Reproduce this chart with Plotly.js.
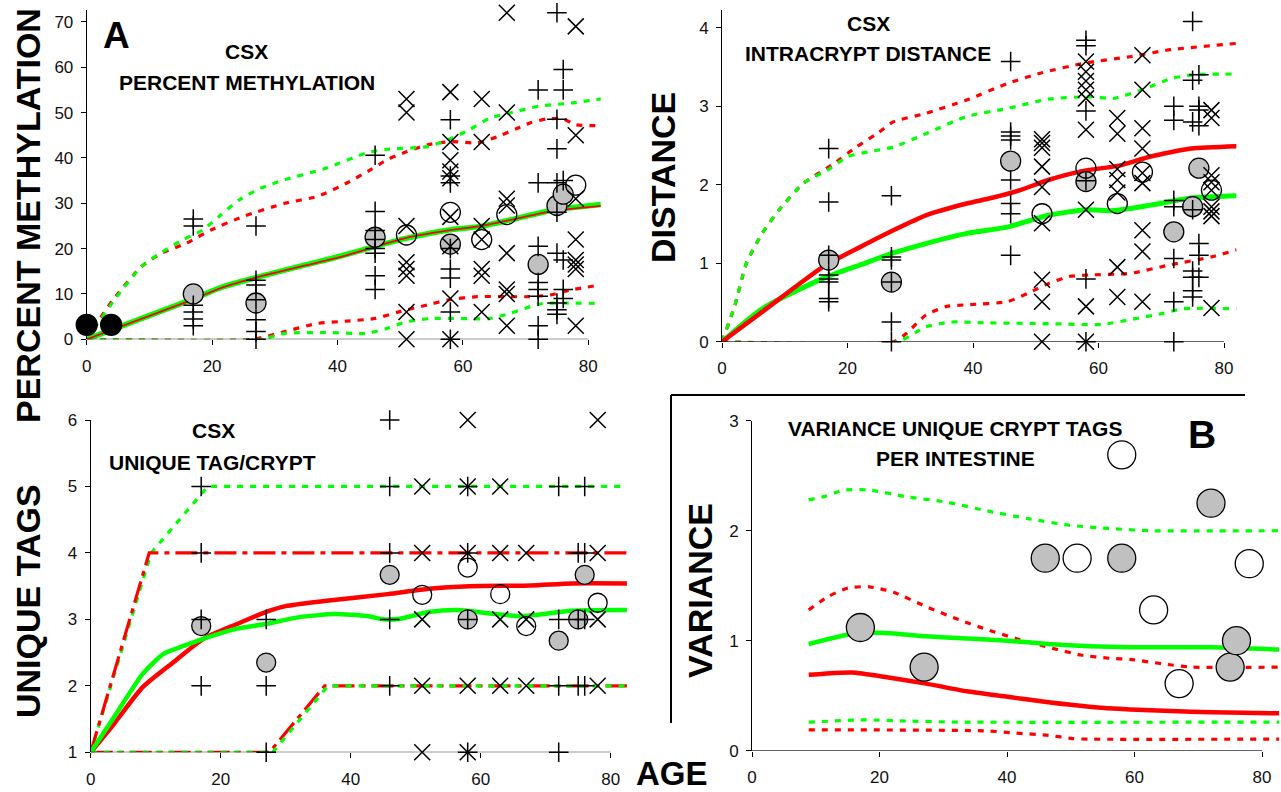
<!DOCTYPE html>
<html><head><meta charset="utf-8">
<script src="https://cdn.plot.ly/plotly-3.0.1.min.js"></script>
<style>html,body{margin:0;padding:0;background:#fff}#chart{width:1281px;height:792px}</style>
</head><body><div id="chart"></div>
<script>
// ---------------- DATA ----------------
// Panel A: percent methylation
const methDots = [[0,3.2],[3.9,3.2]];
const methGray = [[17,10],[27,8],[46,22.5],[58,21],[72,16.5],[75,29.5],[76,32]];
const methOpen = [[51,23],[58,28],[63,22],[67,27.5],[78,34]];
const methPlusAges = [17,27,46,58,72,75,76];
const methPlusVals = [[26.5,25,7.5,6,4.5,3],[25,13,12,8.7,4.3,1.7,0],[40.6,28.2,24,22,20,19,14,11],
  [48.4,36,34.5,20,15.5,13.5,6,0],[55,34.5,20.5,12.5,11,9.5,3,0],[72,48.5,42,34.5,28,19,8,6.5,5.5],[59.5,55,35,17.5,11,9]];
const methXAges = [51,58,63,67,78];
const methXVals = [[53,50,25,17,15.5,14,6,0],[54.5,43.5,39.5,37,35.5,27,20.5,9,0],[53,43.5,25,22,15.5,14,6],
  [72,50,31,29.5,19,11,10,3],[69,45,31,22,17.5,16.5,15.5,3]];
const methMeanG = [[0,0],[16.6,8.7],[21.8,11.6],[26.7,13.5],[34.9,16.4],[40.1,18.2],[46,20.5],[51.1,22.3],[57.7,24.1],[62.9,24.9],[67.5,26.3],[74.1,28.4],[82,29.7]];
const methMeanR = [[0,0],[16.6,8.6],[21.8,11.5],[26.7,13.5],[34.9,16.3],[40.1,18],[46,20.4],[51.1,22.4],[57.7,24],[62.9,25],[67.5,26.3],[74.1,28.2],[82,29.4]];
const methHiG = [[0,0],[4.8,9.4],[8.7,16],[11.3,18.6],[15.3,21.9],[18.5,24.1],[21.1,27.1],[24.4,30.8],[27.7,33.3],[31.6,35.2],[38.1,37.7],[44.6,41.1],[47.9,41.9],[54.4,42.5],[58.3,44.4],[61,46.2],[64.3,48.8],[67.5,49.9],[72.1,51.4],[77.3,52.1],[82,53]];
const methHiR = [[0,0],[1.6,3.5],[4.2,8.7],[8.7,16],[12,19],[15.9,21.2],[19.8,24.1],[25,27.1],[31.6,30],[36.8,31.5],[41.4,34.4],[45.3,37.4],[47.9,39.6],[51.1,41.4],[54.4,42.9],[58.3,43.6],[62.3,43.3],[65.5,44.7],[68.8,46.6],[70.7,47.7],[73.4,48.6],[76,48.6],[78,47.3],[82,47.1]];
const methLoR = [[0,0],[26.4,0],[31.6,1.7],[36.8,3.5],[41.4,4],[46,4.6],[49.9,6.1],[54.4,7.6],[57.7,8.7],[62.3,9.4],[70.7,9.4],[74,9.8],[77.3,10.9],[82,12]];
const methLoG = [[0,0],[27.7,0],[31.6,1.3],[38.1,1.5],[44.6,1.3],[47.9,2.4],[51.1,3.9],[55.1,4.6],[64.3,4.6],[67.5,5.7],[70.7,7.2],[72.7,7.9],[82,7.9]];

// Panel top-right: intracrypt distance
const distGray = [[17,1.04],[27,0.76],[46,2.3],[58,2.04],[72,1.4],[75,1.72],[76,2.21]];
const distOpen = [[51,1.63],[58,2.21],[63,1.76],[67,2.16],[78,1.93]];
const distPlusAges = [17,27,46,58,72,75,76];
const distPlusVals = [[2.46,1.78,1.1,0.85,0.8,0.76,0.55,0.51],[1.86,1.08,1.04,0.76,0.25,0],[3.57,2.67,2.62,2.57,2.06,1.76,1.63,1.1],
  [3.84,3.77,2.94,2.05,0.8,0],[3.0,2.82,1.8,1.72,1.06,0.51,0],[4.08,3.33,2.8,1.68,0.9,0.82,0.65,0.57],[3.4,3.0,2.95,2.75,1.25,1.1,0.82]];
const distXAges = [51,58,63,67,78];
const distXVals = [[2.58,2.53,2.47,2.23,1.97,1.51,0.79,0.51,0],[3.57,3.44,3.32,3.21,3.1,2.7,1.68,0.45,0],[2.85,2.65,2.2,2.06,1.9,0.95,0.57],
  [3.65,3.21,2.72,2.46,2.15,2.02,1.42,1.15,0.51],[2.95,2.85,2.12,2.03,1.93,1.72,1.66,1.6,0.43]];
const distMeanR = [[0,0],[6.4,0.38],[16.2,0.96],[22.1,1.21],[27.3,1.42],[32.5,1.61],[39,1.76],[42.9,1.83],[47.5,1.93],[52,2.06],[57.2,2.17],[63.7,2.25],[68.3,2.36],[74.8,2.46],[82,2.49]];
const distMeanG = [[0,0],[6.4,0.42],[16.2,0.81],[22.1,0.98],[27.3,1.13],[32.5,1.25],[39,1.38],[45.5,1.46],[52,1.61],[57.9,1.68],[62.4,1.67],[68.3,1.74],[74.8,1.83],[82,1.86]];
const distHiR = [[0,0],[2,0.45],[3.9,1.0],[6.4,1.38],[9.1,1.68],[13,2.02],[17.5,2.25],[21.4,2.48],[24.7,2.65],[27.3,2.8],[32.5,2.91],[39,3.08],[45.5,3.29],[50.7,3.42],[57.9,3.55],[65,3.63],[71.5,3.72],[82,3.8]];
const distHiG = [[0,0],[2,0.45],[3.9,1.0],[6.4,1.38],[9.1,1.68],[13,2.02],[16.9,2.19],[20.1,2.36],[23.4,2.42],[27.3,2.48],[32.5,2.65],[39,2.87],[45.5,2.97],[52,3.09],[58.5,3.12],[62.4,3.1],[67,3.21],[71.5,3.35],[75,3.4],[82,3.41]];
const distLoR = [[0,0],[27.3,0],[29.3,0.1],[32.5,0.34],[35.8,0.45],[39,0.47],[45.5,0.51],[48.8,0.62],[52,0.74],[55.3,0.83],[58.5,0.85],[65,0.87],[71.5,0.98],[78,1.08],[82,1.17]];
const distLoG = [[0,0],[28,0],[32.5,0.19],[36.4,0.25],[42.3,0.24],[52,0.23],[60.5,0.22],[65,0.28],[70.2,0.36],[73.5,0.42],[82,0.42]];

// Panel bottom-left: unique tags per crypt
const tagsGray = [[17,2.9],[27,2.35],[46,3.67],[58,3.0],[72,2.68],[75,3.0],[76,3.67]];
const tagsOpen = [[51,3.37],[58,3.78],[63,3.38],[67,2.9],[78,3.25]];
const tagsPlusAges = [17,27,46,58,72,75,76];
const tagsPlusVals = [[5,4,3,2],[3,2,1],[6,5,4,3,2],[5,4,3,1],[5,3,2,1],[4,3,2],[5,4,3,2]];
const tagsXAges = [51,58,63,67,78];
const tagsXVals = [[5,4,3,2,1],[6,5,4,2,1],[5,4,3,2],[4,3,2],[6,4,3,2]];
const tagsMeanR = [[0,1],[3.6,1.43],[8,1.98],[12.4,2.33],[17.4,2.71],[22.5,2.93],[26.9,3.11],[30,3.2],[36.3,3.28],[45.7,3.38],[52,3.46],[58.3,3.5],[67.7,3.51],[74,3.54],[82.5,3.54]];
const tagsMeanG = [[0,1],[3.6,1.53],[8,2.18],[11.2,2.48],[14.3,2.6],[17.4,2.71],[22.5,2.86],[26.9,2.93],[31.9,3.03],[37.5,3.08],[42.5,3.05],[45.1,3.0],[47.6,3.01],[52,3.11],[56.4,3.14],[61.4,3.09],[66.4,3.05],[74,3.13],[82.5,3.14]];
const tagsHiR = [[0,1],[9,4],[82.5,4]];
const tagsHiG = [[0,1],[9.3,4],[18,5],[82.5,5]];
const tagsLoR = [[0,1],[27.5,1],[36,2],[82.5,2]];
const tagsLoG = [[0,1],[28,1],[36.5,2],[82.5,2]];

// Panel B: variance unique crypt tags per intestine
const varGray = [[17,1.12],[27,0.76],[46,1.75],[58,1.75],[72,2.25],[75,0.76],[76,1.0]];
const varOpen = [[51,1.75],[58,2.69],[63,1.28],[67,0.61],[78,1.7]];
const varMeanG = [[8.9,0.97],[16.4,1.07],[20.9,1.07],[27.3,1.04],[33.7,1.02],[40.1,1.0],[46.5,0.97],[52.9,0.95],[59.3,0.94],[72.1,0.94],[82.7,0.92]];
const varMeanR = [[8.9,0.69],[11.3,0.7],[15.7,0.71],[20.9,0.67],[27.3,0.61],[33.7,0.54],[40.1,0.49],[46.5,0.44],[52.9,0.4],[59.3,0.375],[65.7,0.36],[72.1,0.35],[82.7,0.34]];
const varHiG = [[8.9,2.28],[11.3,2.31],[14.5,2.37],[18.4,2.37],[24.1,2.31],[30.5,2.26],[36.9,2.18],[43.3,2.11],[49.7,2.05],[56.1,2.02],[62.5,2.0],[82.7,2.0]];
const varHiR = [[8.9,1.28],[11.9,1.4],[15.1,1.48],[18.4,1.49],[22.2,1.44],[27.3,1.31],[32.5,1.19],[36.9,1.1],[41.4,1.02],[46.5,0.94],[51.6,0.87],[56.1,0.84],[59.3,0.83],[64.4,0.79],[68.9,0.76],[82.7,0.76]];
const varLoG = [[8.9,0.26],[17.7,0.28],[24.1,0.27],[32.5,0.26],[82.7,0.26]];
const varLoR = [[8.9,0.19],[36.9,0.18],[41.4,0.16],[46.5,0.14],[50.3,0.11],[52.9,0.105],[82.7,0.105]];

const xTicks = [0,20,40,60,80];

// ---------------- HELPERS ----------------
const GREEN = '#00ff00', RED = '#ff0000';
const FONT = 'Liberation Sans, Arial, sans-serif';
const W = 1281, H = 792;
const fx = p => p / W, fy = p => 1 - p / H;

function lineTrace(pairs, color, width, dash, ax, shape) {
  return {type:'scatter', mode:'lines', x:pairs.map(d=>d[0]), y:pairs.map(d=>d[1]),
    xaxis:'x'+ax, yaxis:'y'+ax, hoverinfo:'skip', showlegend:false,
    line:{color:color, width:width, dash:dash||'solid', shape:shape||'spline', smoothing:0.6}};
}
function circleTrace(pairs, fill, size, ax) {
  return {type:'scatter', mode:'markers', x:pairs.map(d=>d[0]), y:pairs.map(d=>d[1]),
    xaxis:'x'+ax, yaxis:'y'+ax, cliponaxis:false, showlegend:false, hoverinfo:'skip',
    marker:{symbol:'circle', size:size, color:fill, line:{color:'#000', width:1.3}}};
}
function crossTrace(ages, vals, symbol, size, ax) {
  const x = [], y = [];
  ages.forEach((a,i)=>vals[i].forEach(v=>{x.push(a); y.push(v);}));
  return {type:'scatter', mode:'markers', x:x, y:y, xaxis:'x'+ax, yaxis:'y'+ax,
    cliponaxis:false, showlegend:false, hoverinfo:'skip',
    marker:{symbol:symbol, size:size, color:'#000', line:{color:'#000', width:1.5}}};
}
const DOT = '6px,7px';
const PSZ = 14, XSZ = 16;
const ax1 = '', ax2 = '2', ax3 = '3', ax4 = '4';

const traces = [
  // Panel A
  lineTrace(methHiR, RED, 3.2, DOT, ax1), lineTrace(methHiG, GREEN, 3.2, DOT, ax1),
  lineTrace(methLoR, RED, 3.2, DOT, ax1), lineTrace(methLoG, GREEN, 3.2, DOT, ax1),
  lineTrace(methMeanG, GREEN, 5.5, 'solid', ax1), lineTrace(methMeanR, RED, 1.8, 'solid', ax1),
  circleTrace(methGray, '#c0c0c0', 20, ax1), circleTrace(methOpen, 'rgba(255,255,255,0)', 20, ax1),
  circleTrace(methDots, '#000', 21, ax1),
  crossTrace(methPlusAges, methPlusVals, 'cross-thin-open', PSZ, ax1),
  crossTrace(methXAges, methXVals, 'x-thin-open', XSZ, ax1),
  // Panel top-right
  lineTrace(distHiR, RED, 3.2, DOT, ax2), lineTrace(distHiG, GREEN, 3.2, DOT, ax2),
  lineTrace(distLoR, RED, 3.2, DOT, ax2), lineTrace(distLoG, GREEN, 3.2, DOT, ax2),
  lineTrace(distMeanG, GREEN, 5, 'solid', ax2), lineTrace(distMeanR, RED, 4.5, 'solid', ax2),
  circleTrace(distGray, '#c0c0c0', 20, ax2), circleTrace(distOpen, 'rgba(255,255,255,0)', 20, ax2),
  crossTrace(distPlusAges, distPlusVals, 'cross-thin-open', PSZ, ax2),
  crossTrace(distXAges, distXVals, 'x-thin-open', XSZ, ax2),
  // Panel bottom-left
  lineTrace(tagsHiG, GREEN, 3.2, DOT, ax3, 'linear'), lineTrace(tagsHiR, RED, 3.2, '22px,6px,5px,6px', ax3, 'linear'),
  lineTrace(tagsLoR, RED, 3.2, '22px,6px,5px,6px', ax3, 'linear'), lineTrace(tagsLoG, GREEN, 3.2, DOT, ax3, 'linear'),
  lineTrace(tagsMeanR, RED, 4.5, 'solid', ax3), lineTrace(tagsMeanG, GREEN, 4.5, 'solid', ax3),
  circleTrace(tagsGray, '#c0c0c0', 19, ax3), circleTrace(tagsOpen, 'rgba(255,255,255,0)', 19, ax3),
  crossTrace(tagsPlusAges, tagsPlusVals, 'cross-thin-open', PSZ, ax3),
  crossTrace(tagsXAges, tagsXVals, 'x-thin-open', XSZ, ax3),
  // Panel B
  lineTrace(varHiG, GREEN, 3.2, DOT, ax4), lineTrace(varHiR, RED, 3.2, DOT, ax4),
  lineTrace(varLoG, GREEN, 3.2, DOT, ax4), lineTrace(varLoR, RED, 3.2, DOT, ax4),
  lineTrace(varMeanG, GREEN, 4.5, 'solid', ax4), lineTrace(varMeanR, RED, 4.5, 'solid', ax4),
  circleTrace(varGray, '#c0c0c0', 28, ax4), circleTrace(varOpen, '#ffffff', 28, ax4)
];

// ---------------- LAYOUT ----------------
const tickFont = {family:FONT, size:17, color:'#111'};
function xAxis(l, r, range, anchor) {
  return {domain:[fx(l), fx(r)], range:range, anchor:anchor, tickvals:xTicks, ticks:'outside', ticklen:5,
    tickcolor:'#000', tickwidth:1, showline:false, showgrid:false, zeroline:false, tickfont:tickFont,
    ticklabelstandoff:6, fixedrange:true};
}
function yAxis(bottom, top, range, tv, anchor) {
  return {domain:[fy(bottom), fy(top)], range:range, anchor:anchor, tickvals:tv, ticks:'outside', ticklen:5,
    tickcolor:'#000', tickwidth:1, showline:true, linecolor:'#000', linewidth:1, showgrid:false, zeroline:false,
    tickfont:tickFont, ticklabelstandoff:4, fixedrange:true};
}

const bold = (t, s) => ({text:'<b>'+t+'</b>', font:{family:FONT, size:s, color:'#000'}});
function ann(t, x, y, s, angle) {
  const b = bold(t, s);
  return {text:b.text, font:b.font, xref:'paper', yref:'paper', x:fx(x), y:fy(y),
    xanchor:'center', yanchor:'middle', showarrow:false, textangle:angle||0};
}

const layout = {
  width:W, height:H, margin:{l:0, r:0, t:0, b:0}, paper_bgcolor:'#fff', plot_bgcolor:'rgba(0,0,0,0)',
  showlegend:false,
  xaxis: xAxis(86.7, 86.7 + 82*6.27, [0,82], 'y'),
  yaxis: yAxis(339.3, 339.3 - 72.6*4.535, [0,72.6], [0,10,20,30,40,50,60,70], 'x'),
  xaxis2: xAxis(722, 722 + 82*6.275, [0,82], 'y2'),
  yaxis2: yAxis(341.7, 341.7 - 4.22*78.5, [0,4.22], [0,1,2,3,4], 'x2'),
  xaxis3: xAxis(90.7, 90.7 + 82.5*6.5, [0,82.5], 'y3'),
  yaxis3: yAxis(752.3, 420, [1,6], [1,2,3,4,5,6], 'x3'),
  xaxis4: xAxis(752, 752 + 82.7*6.375, [0,82.7], 'y4'),
  yaxis4: yAxis(750.7, 420.7, [0,3], [0,1,2,3], 'x4'),
  shapes: [
    {type:'line', xref:'x', yref:'y', x0:0, x1:80, y0:0, y1:0, line:{color:'#000', width:1}},
    {type:'line', xref:'x2', yref:'y2', x0:0, x1:80, y0:0, y1:0, line:{color:'#000', width:1}},
    {type:'line', xref:'x3', yref:'y3', x0:0, x1:80, y0:1, y1:1, line:{color:'#000', width:1}},
    {type:'line', xref:'x4', yref:'y4', x0:0, x1:80, y0:0, y1:0, line:{color:'#000', width:1}},
    {type:'line', xref:'paper', yref:'paper', x0:fx(671), x1:fx(671), y0:fy(395), y1:fy(723), line:{color:'#000', width:2}},
    {type:'line', xref:'paper', yref:'paper', x0:fx(671), x1:fx(1245), y0:fy(395), y1:fy(395), line:{color:'#000', width:2}}
  ],
  annotations: [
    ann('PERCENT METHYLATION', 28, 216, 34, -90),
    ann('DISTANCE', 663, 178, 34, -90),
    ann('UNIQUE TAGS', 28, 601, 34, -90),
    ann('VARIANCE', 700, 591, 34, -90),
    ann('AGE', 672, 773, 33),
    ann('A', 116, 35, 37),
    ann('B', 1202, 434, 39),
    ann('CSX', 246, 52, 21),
    ann('PERCENT METHYLATION', 247, 82, 21),
    ann('CSX', 868, 23, 21),
    ann('INTRACRYPT DISTANCE', 868, 53, 21),
    ann('CSX', 213, 430, 21),
    ann('UNIQUE TAG/CRYPT', 212, 462, 21),
    ann('VARIANCE UNIQUE CRYPT TAGS', 955, 428, 21),
    ann('PER INTESTINE', 955, 458, 21)
  ]
};

Plotly.newPlot('chart', traces, layout, {displayModeBar:false, staticPlot:true});
</script></body></html>
